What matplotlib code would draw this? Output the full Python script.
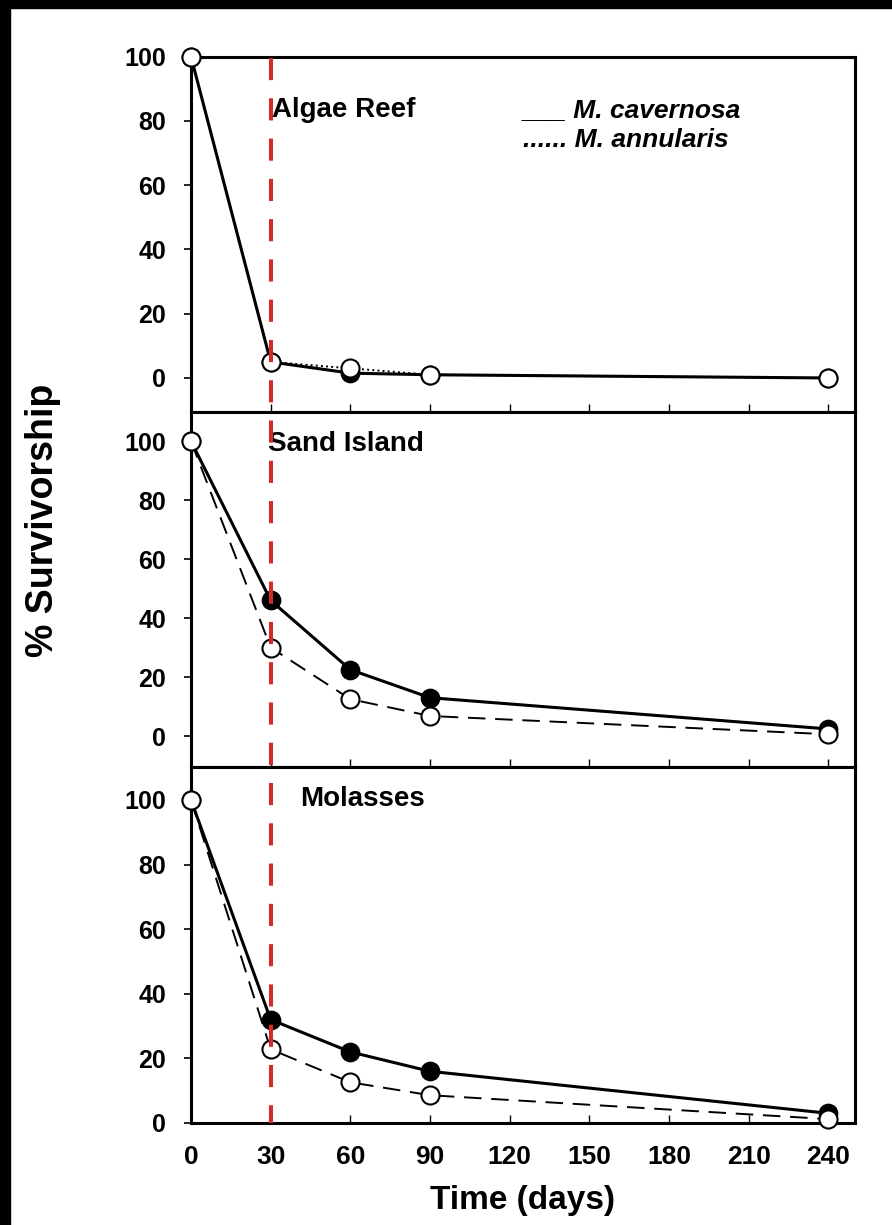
import matplotlib
matplotlib.use("Agg")
import matplotlib.pyplot as plt
from matplotlib.lines import Line2D
from matplotlib.patches import Rectangle
import matplotlib.transforms as mtransforms

plt.rcParams['font.family'] = ['Liberation Sans', 'DejaVu Sans']

# survivorship (%) over time (days)
days = [0, 30, 60, 90, 240]
sites = ["Algae Reef", "Sand Island", "Molasses"]
cavernosa = [
    [100, 5, 1.5, 1, 0],
    [100, 46, 22.5, 13, 2.4],
    [100, 32, 22, 16, 3],
]
annularis = [
    [100, 5, 3, 1, 0],
    [100, 30, 12.5, 6.8, 0.6],
    [100, 22.8, 12.6, 8.6, 1.2],
]
ann_styles = [":", "--", "--"]
xticks = [0, 30, 60, 90, 120, 150, 180, 210, 240]
yticks = [0, 20, 40, 60, 80, 100]
ylims = [(-10.5, 100), (-10.4, 110), (0, 110.3)]
title_pos = [(0.122, 0.85), (0.116, 0.91), (0.165, 0.91)]

W, H = 892, 1225
fig = plt.figure(figsize=(W / 100, H / 100), dpi=100)

# black strips on top and left edge of the original image
fig.patches.append(Rectangle((0, 1 - 8 / H), 1, 8 / H, transform=fig.transFigure,
                             color="black", zorder=0))
fig.patches.append(Rectangle((0, 0), 10 / W, 1, transform=fig.transFigure,
                             color="black", zorder=0))

left = 191 / W
width = 664 / W
bounds = [(56.7, 411.7), (411.7, 766.7), (766.7, 1123)]
axes = []
for i, (top, bot) in enumerate(bounds):
    ax = fig.add_axes([left, 1 - bot / H, width, (bot - top) / H])
    axes.append(ax)
    ax.plot(days, cavernosa[i], "-", color="black", lw=2.2, marker="o",
            ms=13, mfc="black", mec="black", mew=1.2, zorder=3, clip_on=False)
    ls = ann_styles[i]
    if ls == "--":
        ax.plot(days, annularis[i], color="black", lw=1.4, dashes=(9, 5),
                marker="o", ms=13, mfc="white", mec="black", mew=1.5,
                zorder=4, clip_on=False)
    else:
        ax.plot(days, annularis[i], ":", color="black", lw=1.4,
                marker="o", ms=13, mfc="white", mec="black", mew=1.5,
                zorder=4, clip_on=False)
    ax.set_xlim(0, 250)
    ax.set_ylim(*ylims[i])
    ax.set_xticks(xticks)
    ax.set_yticks(yticks)
    for s in ax.spines.values():
        s.set_linewidth(2.2)
    ax.tick_params(axis="y", direction="out", length=5, width=1.2, pad=13,
                   labelsize=18)
    ax.tick_params(axis="x", direction="in", length=6, width=1.0, pad=16,
                   labelsize=19)
    for lab in ax.get_yticklabels() + ax.get_xticklabels():
        lab.set_fontweight("bold")
    if i < 2:
        ax.tick_params(axis="x", labelbottom=False)
    ax.text(title_pos[i][0], title_pos[i][1], sites[i], transform=ax.transAxes,
            fontsize=20, fontweight="bold", ha="left", va="center", zorder=6)

axes[0].text(0.5, 0.85, "___ M. cavernosa", transform=axes[0].transAxes,
             fontsize=19, fontweight="bold", style="italic", ha="left", va="center")
axes[0].text(0.5, 0.765, "...... M. annularis", transform=axes[0].transAxes,
             fontsize=19, fontweight="bold", style="italic", ha="left", va="center")

# red dashed line at day 30 across all panels
trans = mtransforms.blended_transform_factory(axes[2].transData, fig.transFigure)
fig.add_artist(Line2D([30, 30], [1 - 58 / H, 1 - 1123 / H], transform=trans,
                      color="#d42a2a", lw=2.9, dashes=(5.5, 4.5), zorder=10))

fig.text(43 / W, 1 - 520 / H, "% Survivorship", rotation=90, fontsize=27,
         fontweight="bold", ha="center", va="center")
fig.text(522 / W, 1 - 1200 / H, "Time (days)", fontsize=24, fontweight="bold",
         ha="center", va="center")

fig.savefig("out.png", dpi=100)
